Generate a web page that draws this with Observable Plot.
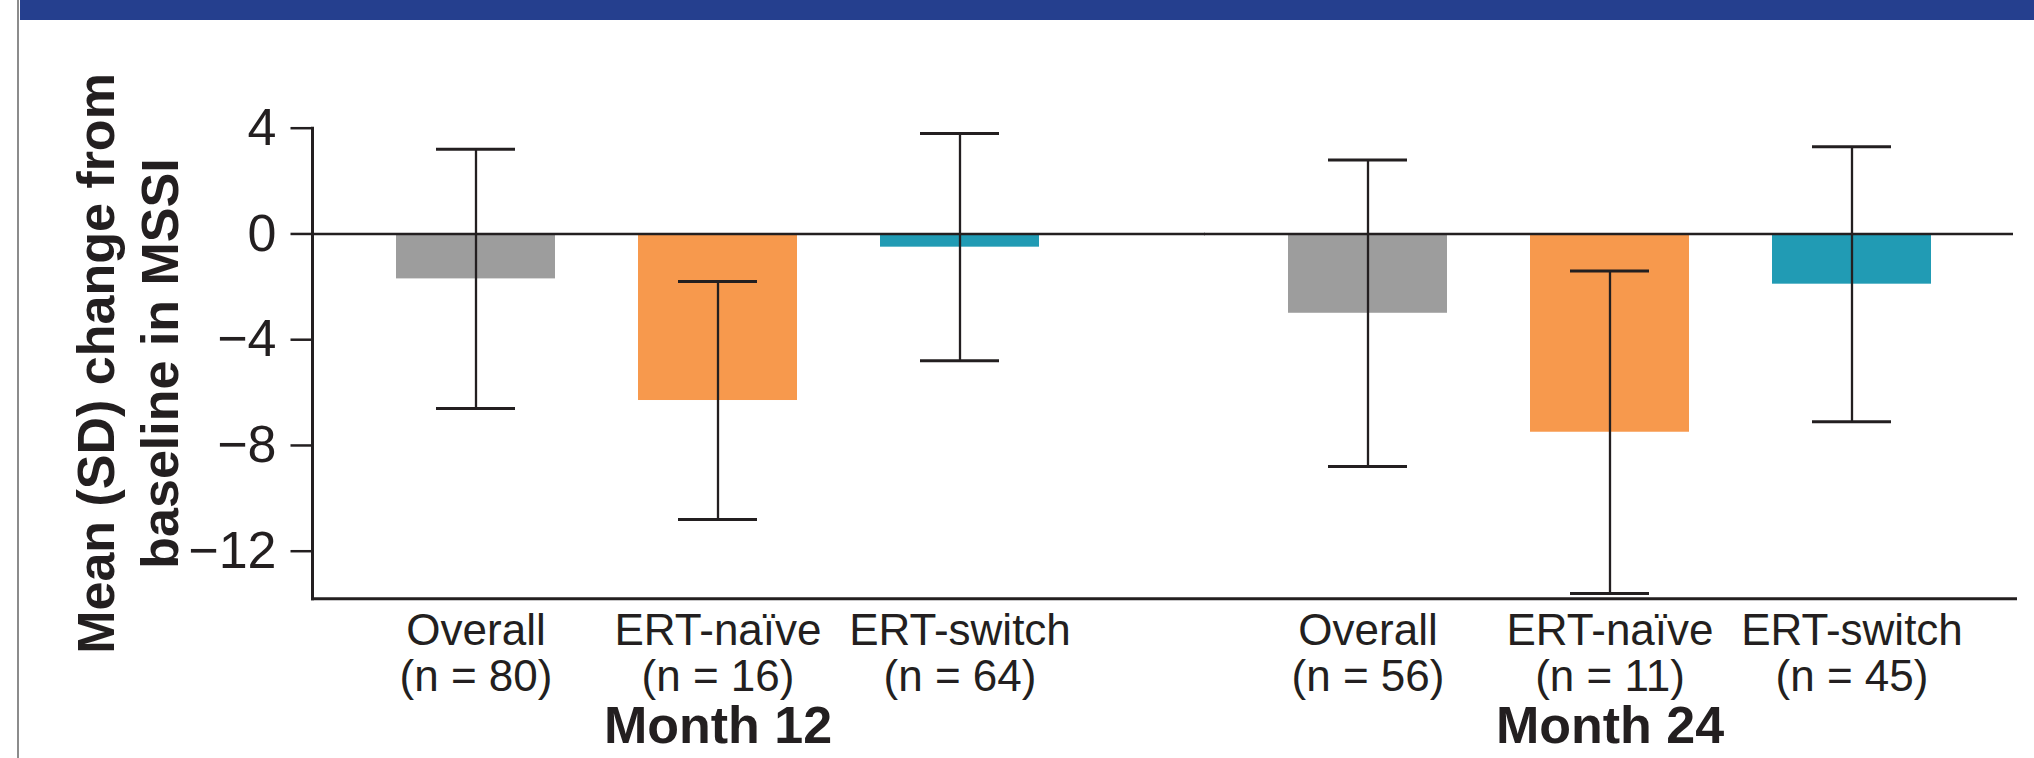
<!DOCTYPE html>
<html><head><meta charset="utf-8">
<script src="https://cdn.jsdelivr.net/npm/d3@7"></script>
<script src="https://cdn.jsdelivr.net/npm/@observablehq/plot@0.6"></script>
<style>
html,body{margin:0;padding:0;background:#fff;}
#wrap{position:relative;width:2034px;height:758px;overflow:hidden;background:#fff;}
#banner{position:absolute;left:20px;top:0;width:2014px;height:20px;background:#253f8e;z-index:2;}
#edge{position:absolute;left:17px;top:0;width:2px;height:758px;background:#8c8c8c;z-index:2;}
#chart{position:absolute;left:0;top:0;}
</style></head><body>
<div id="wrap"><div id="chart"></div><div id="banner"></div><div id="edge"></div></div>
<script>
const months = ["Month 12", "Month 24"];
const groups = ["Overall", "ERT-naïve", "ERT-switch"];
const month12Mean = [-1.7, -6.3, -0.5];
const month12SD = [4.9, 4.5, 4.3];
const month12N = [80, 16, 64];
const month24Mean = [-3.0, -7.5, -1.9];
const month24SD = [5.8, 6.1, 5.2];
const month24N = [56, 11, 45];
const groupColors = ["#9d9d9d", "#f7994d", "#219bb4"];
const yTicks = [4, 0, -4, -8, -12];
const yDomain = [-13.8, 4];
const yTitle = "Mean (SD) change from\nbaseline in MSSI";

const means = [month12Mean, month24Mean];
const sds = [month12SD, month24SD];
const ns = [month12N, month24N];
const rows = months.flatMap((m, i) => groups.map((g, j) => ({
  month: m, group: g, mean: means[i][j], sd: sds[i][j], n: ns[i][j]
})));

const ink = "#231f20";
const font = "'Liberation Sans', Arial, Helvetica, sans-serif";

const chart = Plot.plot({
  width: 2034, height: 758,
  marginTop: 127.7, marginBottom: 159.7, marginLeft: 312, marginRight: 18,
  style: {fontFamily: font, background: "transparent", color: ink},
  fx: {domain: months, axis: null, paddingInner: 0.0908, paddingOuter: 0},
  x: {domain: groups, axis: null, padding: 0.342},
  y: {domain: yDomain},
  color: {domain: groups, range: groupColors},
  marks: [
    Plot.barY(rows, {fx: "month", x: "group", y: "mean", fill: "group"}),
    Plot.ruleY([months[0]], {fx: d => d, y: () => 0, stroke: ink, strokeWidth: 2.5, insetRight: -82}),
    Plot.ruleY([months[1]], {fx: d => d, y: () => 0, stroke: ink, strokeWidth: 2.5, insetRight: 2}),
    Plot.ruleX(rows, {fx: "month", x: "group", y1: d => d.mean - d.sd, y2: d => d.mean + d.sd, stroke: ink, strokeWidth: 2.3}),
    Plot.tickY(rows, {fx: "month", x: "group", y: d => d.mean + d.sd, stroke: ink, strokeWidth: 3, insetLeft: 40, insetRight: 40}),
    Plot.tickY(rows, {fx: "month", x: "group", y: d => d.mean - d.sd, stroke: ink, strokeWidth: 3, insetLeft: 40, insetRight: 40}),
    Plot.axisY({ticks: yTicks, tickFormat: d => d < 0 ? "\u2212" + Math.abs(d) : String(d), tickSize: 21.5, tickPadding: 14.5, fontSize: 52, strokeWidth: 2.5, label: null}),
    Plot.frame({anchor: "left", facet: "super", stroke: ink, strokeWidth: 3}),
    Plot.frame({anchor: "bottom", facet: "super", stroke: ink, strokeWidth: 3}),
    Plot.text(rows, {fx: "month", x: "group", text: d => `${d.group}\n(n = ${d.n})`, frameAnchor: "bottom", lineAnchor: "top", dy: 12.8, fontSize: 44, lineHeight: 1.06, fill: ink}),
    Plot.text(months, {fx: d => d, text: d => d, frameAnchor: "bottom", lineAnchor: "top", dy: 107.5, fontSize: 52, fontWeight: "bold", fill: ink}),
    Plot.text([yTitle], {facet: "super", text: d => d, frameAnchor: "left", textAnchor: "middle", rotate: -90, lineAnchor: "top", dx: -244, fontSize: 52, fontWeight: "bold", lineHeight: 1.23, fill: ink})
  ]
});
document.getElementById("chart").appendChild(chart);
</script>
</body></html>
